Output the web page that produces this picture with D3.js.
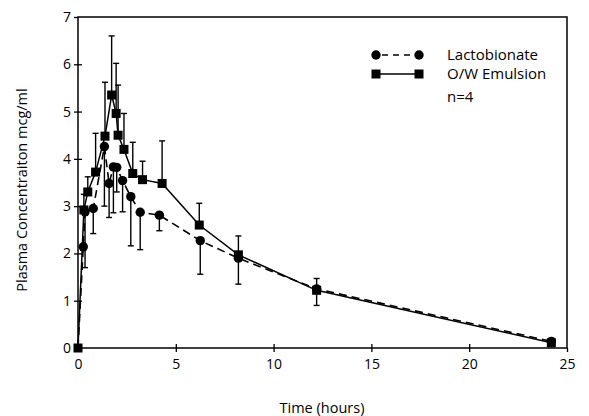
<!DOCTYPE html>
<html>
<head>
<meta charset="utf-8">
<script src="https://cdn.jsdelivr.net/npm/d3@7"></script>
<style>
  html, body { margin: 0; padding: 0; background: #fff; }
  svg { display: block; }
  text { font-family: "Open Sans", "Liberation Sans", sans-serif; fill: #000; }
</style>
</head>
<body>
<svg id="chart" width="589" height="416"></svg>
<script>
// ---- Data ----
const xTicks = [0, 5, 10, 15, 20, 25];
const yTicks = [0, 1, 2, 3, 4, 5, 6, 7];

// O/W Emulsion (squares, solid line)
const emulsionTime = [0, 0.3, 0.5, 0.9, 1.38, 1.72, 1.95, 2.05, 2.35, 2.8, 3.3, 4.3, 6.2, 8.2, 12.2, 24.2];
const emulsionConc = [0, 2.92, 3.30, 3.72, 4.48, 5.35, 4.96, 4.50, 4.20, 3.69, 3.56, 3.48, 2.60, 1.97, 1.22, 0.11];
const emulsionErrHi = [null, 3.25, 3.62, 4.54, 5.62, 6.60, 6.02, 5.56, 4.96, 4.35, 3.95, 4.38, 3.06, 2.37, 1.47, null];

// Lactobionate (circles, dashed line)
const lactoTime = [0, 0.27, 0.36, 0.78, 1.35, 1.59, 1.81, 1.98, 2.28, 2.7, 3.18, 4.16, 6.25, 8.2, 12.2, 24.2];
const lactoConc = [0, 2.14, 2.88, 2.95, 4.26, 3.48, 3.83, 3.82, 3.54, 3.20, 2.87, 2.81, 2.27, 1.90, 1.25, 0.14];
const lactoErrLo = [null, null, 1.70, 2.42, 3.00, 2.76, 2.86, 3.30, 2.88, 2.16, 2.08, 2.48, 1.56, 1.35, 0.90, null];

const legendLabels = ["Lactobionate", "O/W Emulsion"];
const noteLabel = "n=4";
const xTitle = "Time (hours)";
const yTitle = "Plasma Concentraiton mcg/ml";

// ---- Layout ----
const svg = d3.select("#chart");
const mLeft = 78, mRight = 567, mTop = 17, mBottom = 348;
const x = d3.scaleLinear().domain([0, 25]).range([mLeft, mRight]);
const y = d3.scaleLinear().domain([0, 7]).range([mBottom, mTop]);

const emulsion = emulsionTime.map((t, i) => ({t, v: emulsionConc[i], hi: emulsionErrHi[i]}));
const lacto = lactoTime.map((t, i) => ({t, v: lactoConc[i], lo: lactoErrLo[i]}));

// frame
svg.append("rect")
  .attr("x", mLeft).attr("y", mTop)
  .attr("width", mRight - mLeft).attr("height", mBottom - mTop)
  .attr("fill", "none").attr("stroke", "#000").attr("stroke-width", 1.5);

// axes (ticks crossing the axis lines)
const fontSize = 14;
svg.append("g").attr("transform", `translate(0,${mBottom})`)
  .call(d3.axisBottom(x).tickValues(xTicks).tickSize(4).tickPadding(7).tickFormat(d3.format("d")));
svg.append("g").attr("transform", `translate(0,${mBottom})`)
  .call(d3.axisTop(x).tickValues(xTicks.slice(1, -1)).tickSize(4).tickFormat(""));
svg.append("g").attr("transform", `translate(${mLeft},0)`)
  .call(d3.axisLeft(y).tickValues(yTicks).tickSize(4).tickPadding(3).tickFormat(d3.format("d")));
svg.append("g").attr("transform", `translate(${mLeft},0)`)
  .call(d3.axisRight(y).tickValues(yTicks.slice(1, -1)).tickSize(4).tickFormat(""));
svg.selectAll(".domain").remove();
svg.selectAll(".tick line").attr("stroke", "#000").attr("stroke-width", 1.3);
svg.selectAll(".tick text").style("font-size", fontSize + "px").attr("fill", "#000")
  .style("font-family", "\"Open Sans\", \"Liberation Sans\", sans-serif");

// axis titles
svg.append("text").attr("x", 322).attr("y", 413)
  .attr("text-anchor", "middle").style("font-size", "14.5px").text(xTitle);
svg.append("text")
  .attr("transform", `translate(27,190) rotate(-90)`)
  .attr("text-anchor", "middle").style("font-size", "14.5px").text(yTitle);

// lines
const line = d3.line().x(d => x(d.t)).y(d => y(d.v));
svg.append("path").datum(lacto).attr("d", line)
  .attr("fill", "none").attr("stroke", "#000").attr("stroke-width", 1.6)
  .attr("stroke-dasharray", "8,5");
svg.append("path").datum(emulsion).attr("d", line)
  .attr("fill", "none").attr("stroke", "#000").attr("stroke-width", 1.5);

// error bars
const capW = 3;
function errBars(data, key) {
  const g = svg.append("g").attr("stroke", "#000").attr("stroke-width", 1.4);
  const dd = data.filter(d => d[key] != null);
  g.selectAll("line.v").data(dd).enter().append("line")
    .attr("x1", d => x(d.t)).attr("x2", d => x(d.t))
    .attr("y1", d => y(d.v)).attr("y2", d => y(d[key]));
  g.selectAll("line.c").data(dd).enter().append("line")
    .attr("x1", d => x(d.t) - capW).attr("x2", d => x(d.t) + capW)
    .attr("y1", d => y(d[key])).attr("y2", d => y(d[key]));
}
errBars(emulsion, "hi");
errBars(lacto, "lo");

// markers
const sq = 9, r = 4.7;
svg.append("g").selectAll("rect").data(emulsion).enter().append("rect")
  .attr("x", d => x(d.t) - sq / 2).attr("y", d => y(d.v) - sq / 2)
  .attr("width", sq).attr("height", sq).attr("fill", "#000");
svg.append("g").selectAll("circle").data(lacto.filter(d => d.t > 0)).enter().append("circle")
  .attr("cx", d => x(d.t)).attr("cy", d => y(d.v)).attr("r", r).attr("fill", "#000");

// legend
const lg = svg.append("g");
const lx1 = 376, lx2 = 419, ly1 = 55, ly2 = 74;
lg.append("line").attr("x1", lx1).attr("x2", lx2).attr("y1", ly1).attr("y2", ly1)
  .attr("stroke", "#000").attr("stroke-width", 1.5).attr("stroke-dasharray", "6,5").attr("stroke-dashoffset", -6);
lg.append("circle").attr("cx", lx1).attr("cy", ly1).attr("r", r).attr("fill", "#000");
lg.append("circle").attr("cx", lx2).attr("cy", ly1).attr("r", r).attr("fill", "#000");
lg.append("line").attr("x1", lx1).attr("x2", lx2).attr("y1", ly2).attr("y2", ly2)
  .attr("stroke", "#000").attr("stroke-width", 1.4);
lg.append("rect").attr("x", lx1 - sq / 2).attr("y", ly2 - sq / 2).attr("width", sq).attr("height", sq).attr("fill", "#000");
lg.append("rect").attr("x", lx2 - sq / 2).attr("y", ly2 - sq / 2).attr("width", sq).attr("height", sq).attr("fill", "#000");
lg.append("text").attr("x", 447).attr("y", ly1).attr("dy", "0.35em").style("font-size", "15px").text(legendLabels[0]);
lg.append("text").attr("x", 447).attr("y", ly2).attr("dy", "0.35em").style("font-size", "15px").text(legendLabels[1]);
lg.append("text").attr("x", 447).attr("y", 97).attr("dy", "0.35em").style("font-size", "15px").text(noteLabel);
</script>
</body>
</html>
